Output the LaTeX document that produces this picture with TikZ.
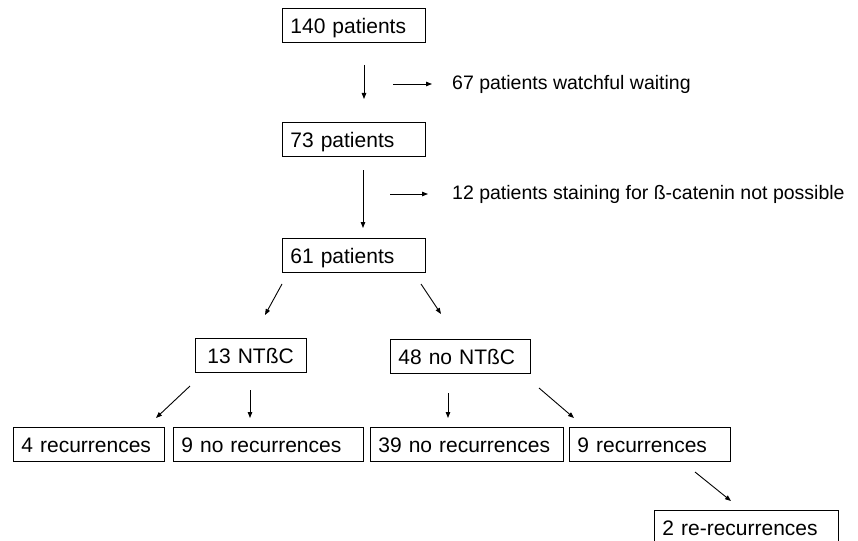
\documentclass[tikz,border=0pt]{standalone}
\usepackage{fontspec}
\setmainfont{Liberation Sans}
\usetikzlibrary{arrows.meta}
\begin{document}
\begin{tikzpicture}[x=1pt,y=-1pt,
  box/.style={draw, line width=0.9pt, inner xsep=8pt, inner ysep=0pt, align=left,
              minimum height=34pt, text height=18pt, text depth=2pt,
              anchor=north west, font=\fontsize{21}{24}\selectfont},
  lbl/.style={anchor=west, inner sep=0pt, font=\fontsize{19.5}{23}\selectfont},
  flow/.style={line width=0.9pt, -{Triangle[length=6pt,width=4.5pt]}}]
\useasboundingbox[fill=white] (0,0) rectangle (858,540);

% boxes
\node[box, text width=127pt] (n140) at (282,8) {140 patients};
\node[box, text width=127pt] (n73) at (282,122) {73 patients};
\node[box, text width=127pt] (n61) at (282,238) {61 patients};
\node[box, text width=87pt, inner xsep=12pt] (ntbc) at (195,338) {13 NTßC};
\node[box, text width=124pt] (nontbc) at (390,339) {48 no NTßC};
\node[box, text width=135pt] (r4) at (13,427) {4 recurrences};
\node[box, text width=174pt] (nr9) at (173,427) {9 no recurrences};
\node[box, text width=177pt] (nr39) at (370,427) {39 no recurrences};
\node[box, text width=145pt] (r9) at (569,427) {9 recurrences};
\node[box, text width=168pt] (rr2) at (654,510) {2 re-recurrences};

% side notes
\node[lbl] (ww) at (452,84) {67 patients watchful waiting};
\node[lbl] (st) at (452,194) {12 patients staining for ß-catenin not possible};

% connector end points
\coordinate (a1s) at (364,65);   \coordinate (a1e) at (364,99);
\coordinate (b1s) at (393,84);   \coordinate (b1e) at (432,84);
\coordinate (a2s) at (363,170);  \coordinate (a2e) at (363,228);
\coordinate (b2s) at (390,194);  \coordinate (b2e) at (428,194);
\coordinate (c1s) at (282,284);  \coordinate (c1e) at (265,315);
\coordinate (c2s) at (421,284);  \coordinate (c2e) at (441,314);
\coordinate (d1s) at (190,386);  \coordinate (d1e) at (156,418);
\coordinate (d2s) at (250,390);  \coordinate (d2e) at (250,418);
\coordinate (e1s) at (448,393);  \coordinate (e1e) at (448,418);
\coordinate (e2s) at (539,388);  \coordinate (e2e) at (574,418);
\coordinate (f1s) at (695,472);  \coordinate (f1e) at (731,501);

\draw[flow] (a1s) -- (a1e);
\draw[flow] (b1s) -- (b1e);
\draw[flow] (a2s) -- (a2e);
\draw[flow] (b2s) -- (b2e);
\draw[flow] (c1s) -- (c1e);
\draw[flow] (c2s) -- (c2e);
\draw[flow] (d1s) -- (d1e);
\draw[flow] (d2s) -- (d2e);
\draw[flow] (e1s) -- (e1e);
\draw[flow] (e2s) -- (e2e);
\draw[flow] (f1s) -- (f1e);
\end{tikzpicture}
\end{document}
